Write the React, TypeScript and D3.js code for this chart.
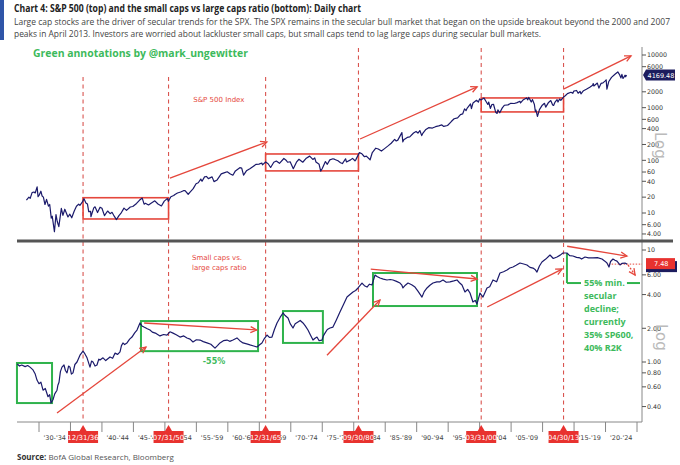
import React from "react";
import * as d3 from "d3";

// ---------- DATA ----------
// S&P 500 index (year, level)
const spxYears: number[] = [
  1928.0, 1928.4, 1928.6, 1928.9, 1929.2, 1929.4, 1929.7, 1929.85, 1930.0, 1930.3, 1930.5, 1930.7, 1930.95,
  1931.2, 1931.5, 1931.7, 1931.95, 1932.1, 1932.45, 1932.7, 1932.9, 1933.15, 1933.55, 1933.8, 1934.1, 1934.6,
  1934.9, 1935.2, 1935.6, 1935.95, 1936.3, 1936.5, 1936.9, 1937.15, 1937.45, 1937.7, 1937.9, 1938.2, 1938.25,
  1938.7, 1938.9, 1939.3, 1939.7, 1940.0, 1940.4, 1940.9, 1941.3, 1941.6, 1941.95, 1942.3, 1942.7, 1943.0,
  1943.5, 1943.9, 1944.5, 1944.9, 1945.5, 1945.95, 1946.4, 1946.7, 1946.9, 1947.4, 1947.8, 1948.4, 1948.9,
  1949.45, 1949.9, 1950.4, 1950.55, 1950.95, 1951.4, 1951.6, 1952.0, 1952.5, 1952.95, 1953.2, 1953.7, 1954.0,
  1954.5, 1954.95, 1955.3, 1955.7, 1955.9, 1956.3, 1956.6, 1956.9, 1957.5, 1957.8, 1958.3, 1958.95, 1959.5,
  1959.9, 1960.4, 1960.8, 1961.2, 1961.9, 1962.2, 1962.5, 1962.95, 1963.5, 1963.9, 1964.5, 1964.95, 1965.4,
  1965.5, 1966.0, 1966.4, 1966.8, 1967.3, 1967.7, 1968.2, 1968.9, 1969.3, 1969.5, 1969.9, 1970.4, 1970.9,
  1971.3, 1971.9, 1972.4, 1973.0, 1973.5, 1973.8, 1974.0, 1974.5, 1974.75, 1975.0, 1975.5, 1975.8, 1976.2,
  1976.7, 1977.0, 1977.5, 1977.9, 1978.2, 1978.7, 1978.85, 1979.5, 1979.8, 1980.2, 1980.3, 1980.9, 1981.3,
  1981.7, 1982.0, 1982.6, 1982.95, 1983.5, 1983.9, 1984.4, 1984.9, 1985.5, 1985.95, 1986.5, 1986.75, 1987.0,
  1987.65, 1987.8, 1987.95, 1988.5, 1988.9, 1989.5, 1989.9, 1990.2, 1990.5, 1990.8, 1991.0, 1991.4, 1991.9,
  1992.5, 1993.0, 1993.5, 1994.0, 1994.3, 1994.9, 1995.5, 1995.95, 1996.5, 1996.95, 1997.3, 1997.6, 1997.85,
  1998.0, 1998.55, 1998.7, 1998.95, 1999.5, 1999.8, 2000.0, 2000.2, 2000.7, 2001.0, 2001.3, 2001.45, 2001.7,
  2001.95, 2002.2, 2002.55, 2002.78, 2002.9, 2003.2, 2003.6, 2003.95, 2004.5, 2004.95, 2005.5, 2005.95, 2006.4,
  2006.5, 2006.95, 2007.45, 2007.65, 2007.8, 2008.0, 2008.2, 2008.4, 2008.7, 2008.85, 2008.95, 2009.18, 2009.5,
  2009.95, 2010.3, 2010.5, 2010.95, 2011.3, 2011.6, 2011.75, 2011.95, 2012.3, 2012.45, 2012.7, 2012.9, 2013.0,
  2013.33, 2013.6, 2013.95, 2014.5, 2014.8, 2014.95, 2015.4, 2015.65, 2015.95, 2016.1, 2016.5, 2016.95, 2017.5,
  2017.95, 2018.05, 2018.15, 2018.7, 2018.95, 2019.3, 2019.6, 2019.95, 2020.1, 2020.22, 2020.5, 2020.95, 2021.5,
  2021.95, 2022.2, 2022.45, 2022.6, 2022.78, 2022.95, 2023.1, 2023.2, 2023.33,
];
const spxValues: number[] = [
  17.6, 20.0, 19.0, 24.4, 25.0, 24.0, 31.3, 20.4, 21.5, 25.9, 21.0, 20.0, 14.5,
  18.1, 13.5, 14.5, 8.0, 8.7, 4.4, 9.3, 6.9, 5.5, 12.2, 9.0, 11.8, 8.4,
  9.5, 8.1, 10.9, 13.4, 14.7, 14.0, 16.2, 18.7, 15.5, 14.8, 10.6, 10.7, 8.5,
  12.5, 13.1, 10.2, 12.9, 12.3, 8.9, 10.9, 9.7, 10.3, 8.7, 7.5, 8.9, 9.8,
  12.4, 11.2, 13.0, 13.3, 15.2, 17.4, 19.2, 14.7, 15.3, 14.2, 15.3, 17.0, 14.8,
  13.6, 16.8, 18.8, 16.7, 20.4, 21.5, 22.5, 24.0, 25.0, 26.5, 26.6, 22.7, 25.0,
  29.0, 35.9, 37.5, 44.0, 40.0, 48.5, 49.4, 45.0, 48.5, 39.4, 42.5, 55.2, 58.5,
  60.7, 55.0, 52.2, 63.0, 72.6, 71.0, 52.3, 63.1, 69.5, 75.0, 84.0, 84.8, 89.0,
  82.0, 93.0, 86.0, 73.2, 92.0, 97.0, 87.7, 108.4, 99.0, 92.0, 94.0, 69.3, 92.2,
  104.8, 92.0, 108.0, 120.2, 104.0, 111.0, 93.0, 84.0, 62.3, 70.0, 95.0, 84.0, 102.0,
  107.0, 104.0, 98.0, 90.0, 86.9, 107.0, 93.0, 102.0, 109.0, 98.0, 101.0, 140.0, 133.0,
  117.0, 120.0, 102.4, 140.6, 170.0, 164.0, 150.0, 167.0, 190.0, 211.0, 250.0, 233.0, 242.0,
  336.0, 224.0, 247.0, 272.0, 278.0, 330.0, 353.0, 330.0, 368.0, 295.0, 330.0, 380.0, 417.0,
  410.0, 435.0, 450.0, 470.0, 440.0, 459.0, 545.0, 615.0, 640.0, 740.0, 760.0, 950.0, 880.0,
  970.0, 1180.0, 960.0, 1229.0, 1380.0, 1280.0, 1469.0, 1400.0, 1520.0, 1320.0, 1150.0, 1280.0, 965.0,
  1148.0, 1160.0, 820.0, 777.0, 910.0, 800.0, 990.0, 1112.0, 1130.0, 1212.0, 1200.0, 1248.0, 1320.0,
  1230.0, 1418.0, 1530.0, 1410.0, 1565.0, 1420.0, 1280.0, 1420.0, 1150.0, 850.0, 900.0, 680.0, 920.0,
  1115.0, 1210.0, 1022.0, 1258.0, 1363.0, 1120.0, 1100.0, 1258.0, 1420.0, 1280.0, 1460.0, 1380.0, 1426.0,
  1590.0, 1680.0, 1848.0, 1960.0, 1870.0, 2059.0, 2120.0, 1880.0, 2044.0, 1830.0, 2100.0, 2239.0, 2440.0,
  2674.0, 2870.0, 2580.0, 2930.0, 2350.0, 2900.0, 2950.0, 3230.0, 3380.0, 2240.0, 3100.0, 3756.0, 4300.0,
  4766.0, 4300.0, 3670.0, 4280.0, 3580.0, 3840.0, 4130.0, 3860.0, 4169.48,
];

// Small caps vs large caps ratio (year, ratio)
const ratioYears: number[] = [
  1926.55, 1926.9, 1927.25, 1927.8, 1928.2, 1928.57, 1929.05, 1929.4, 1929.68, 1930.0, 1930.3, 1930.64, 1931.0,
  1931.43, 1931.7, 1931.91, 1932.22, 1932.5, 1932.86, 1933.0, 1933.18, 1933.4, 1933.65, 1933.97, 1934.2, 1934.45,
  1934.7, 1934.92, 1935.15, 1935.4, 1935.7, 1936.04, 1936.51, 1936.99, 1937.3, 1937.63, 1938.1, 1938.35, 1938.58,
  1938.9, 1939.21, 1939.5, 1939.69, 1940.17, 1940.6, 1941.28, 1941.7, 1942.07, 1942.5, 1942.87, 1943.1, 1943.34,
  1943.6, 1943.98, 1944.4, 1944.77, 1945.2, 1945.57, 1946.04, 1946.35, 1946.68, 1947.2, 1947.63, 1948.0, 1948.6,
  1949.22, 1949.8, 1950.33, 1950.8, 1951.29, 1951.8, 1952.4, 1953.0, 1953.51, 1954.0, 1954.46, 1955.0, 1955.58,
  1956.1, 1956.69, 1957.3, 1957.96, 1958.35, 1958.75, 1959.3, 1959.87, 1960.3, 1960.82, 1961.45, 1961.9, 1962.41,
  1963.0, 1963.52, 1964.1, 1964.63, 1965.0, 1965.42, 1965.8, 1966.22, 1966.6, 1967.01, 1967.4, 1967.81, 1968.3,
  1968.76, 1969.1, 1969.56, 1969.9, 1970.35, 1970.7, 1971.14, 1971.5, 1971.94, 1972.3, 1972.73, 1973.1, 1973.53,
  1973.8, 1974.16, 1974.5, 1974.96, 1975.2, 1975.43, 1975.8, 1976.23, 1976.7, 1977.2, 1977.81, 1978.3, 1978.93,
  1979.4, 1979.88, 1980.3, 1980.68, 1981.31, 1981.7, 1982.11, 1982.5, 1982.9, 1983.38, 1983.7, 1984.17, 1984.7,
  1985.28, 1985.8, 1986.24, 1986.8, 1987.35, 1987.65, 1987.82, 1988.2, 1988.62, 1989.2, 1989.73, 1990.2, 1990.84,
  1991.2, 1991.64, 1992.1, 1992.59, 1993.2, 1993.7, 1994.18, 1994.7, 1995.29, 1995.9, 1996.4, 1996.8, 1997.2,
  1997.67, 1998.1, 1998.47, 1998.94, 1999.3, 1999.58, 2000.06, 2000.3, 2000.53, 2001.17, 2001.6, 2002.12, 2002.7,
  2003.23, 2003.8, 2004.35, 2004.8, 2005.3, 2005.8, 2006.41, 2007.0, 2007.52, 2008.0, 2008.48, 2008.8, 2009.11,
  2009.5, 2009.9, 2010.5, 2011.18, 2011.7, 2012.29, 2012.8, 2013.24, 2013.87, 2014.3, 2014.83, 2015.4, 2015.94,
  2016.2, 2016.74, 2017.3, 2018.01, 2018.7, 2019.44, 2019.9, 2020.23, 2020.55, 2020.8, 2021.18, 2021.5, 2021.82,
  2022.3, 2022.6, 2023.09, 2023.41,
];
const ratioValues: number[] = [
  0.96, 0.92, 0.94, 0.91, 0.93, 0.9, 0.85, 0.78, 0.69, 0.64, 0.66, 0.56, 0.58,
  0.49, 0.51, 0.43, 0.46, 0.52, 0.56, 0.62, 0.66, 0.82, 0.9, 0.94, 0.84, 0.8,
  0.92, 0.9, 0.78, 0.8, 0.95, 1.0, 1.15, 1.25, 1.18, 1.09, 0.9, 1.02, 1.0,
  0.92, 0.94, 1.06, 1.04, 1.09, 1.03, 1.11, 1.08, 1.2, 1.17, 1.23, 1.4, 1.48,
  1.43, 1.48, 1.6, 1.67, 1.82, 1.93, 2.23, 2.1, 2.05, 1.98, 1.93, 1.85, 1.8,
  1.71, 1.76, 1.74, 1.86, 1.81, 1.75, 1.67, 1.71, 1.64, 1.6, 1.51, 1.58, 1.57,
  1.52, 1.48, 1.44, 1.33, 1.4, 1.48, 1.55, 1.57, 1.53, 1.57, 1.64, 1.55, 1.48,
  1.45, 1.42, 1.39, 1.36, 1.42, 1.48, 1.62, 1.74, 1.66, 1.67, 1.95, 2.23, 2.5,
  2.74, 2.6, 2.47, 2.2, 2.01, 2.2, 2.28, 2.35, 2.23, 2.1, 1.93, 1.75, 1.57,
  1.62, 1.67, 1.55, 1.57, 1.72, 1.81, 1.95, 2.01, 2.05, 2.35, 2.79, 3.2, 3.8,
  4.0, 4.22, 4.35, 4.58, 5.07, 4.8, 4.67, 4.95, 4.87, 5.98, 5.8, 5.62, 5.5,
  5.4, 5.45, 5.4, 5.25, 5.07, 4.85, 4.58, 4.85, 5.07, 4.9, 4.67, 4.3, 3.8,
  4.25, 4.58, 4.85, 5.07, 5.2, 5.2, 5.4, 5.15, 5.2, 5.3, 5.4, 5.1, 4.87,
  4.22, 4.45, 4.13, 3.43, 3.55, 3.3, 4.13, 3.95, 3.8, 4.58, 4.7, 5.4, 5.2,
  6.23, 6.4, 6.63, 6.9, 7.05, 7.3, 7.65, 7.5, 7.35, 7.0, 6.9, 6.7, 6.36,
  7.2, 7.81, 8.3, 9.02, 8.4, 8.66, 9.0, 9.4, 9.4, 8.9, 8.84, 8.6, 8.49,
  8.3, 8.66, 8.5, 8.49, 8.55, 8.31, 7.95, 7.65, 7.05, 7.9, 8.31, 8.1, 7.95,
  7.35, 7.6, 7.65, 7.48,
];

// Axis ticks
const spxTicks: number[] = [10000, 6000, 2000, 1000, 600, 400, 200, 100, 60, 40, 20, 10, 6, 4];
const spxTickLabels: string[] = ["10000", "6000", "2000", "1000", "600", "400", "200", "100", "60", "40", "20", "10", "6.00", "4.00"];
const ratioTicks: number[] = [10, 6, 4, 2, 1, 0.8, 0.6, 0.4];
const ratioTickLabels: string[] = ["10", "6.00", "4.00", "2.00", "1.00", "0.80", "0.60", "0.40"];
const periodStarts: number[] = [1930, 1935, 1940, 1945, 1950, 1955, 1960, 1965, 1970, 1975, 1980, 1985, 1990, 1995, 2000, 2005, 2010, 2015, 2020, 2025];
const periodLabels: string[] = ["'30-'34", "'35-'39", "'40-'44", "'45-'49", "'50-'54", "'55-'59", "'60-'64", "'65-'69", "'70-'74", "'75-'79", "'80-'84", "'85-'89", "'90-'94", "'95-'99", "'00-'04", "'05-'09", "'10-'14", "'15-'19", "'20-'24"];

// Key dates (vertical dashed lines)
const keyDates: number[] = [1937.0, 1950.58, 1966.0, 1980.75, 2000.25, 2013.33];
const keyDateLabels: string[] = ["12/31/36", "07/31/50", "12/31/65", "09/30/80", "03/31/00", "04/30/13"];

// Annotations (data coordinates)
const spxBoxes: number[][] = [[1937.0, 1950.58, 7.7, 19.5], [1966.0, 1980.75, 63, 132], [2000.25, 2013.33, 830, 1530]];
const spxArrows: number[][] = [[1950.8, 46, 1966.2, 223], [1981.0, 254, 1999.6, 2476], [2013.4, 2269, 2024.05, 9630]];
const ratioBoxes: number[][] = [[1926.5, 1932.07, 0.43, 0.98], [1946.2, 1964.8, 1.25, 2.32], [1968.76, 1975.1, 1.48, 2.85], [1983.06, 1999.58, 3.16, 6.23]];
const ratioArrows: number[][] = [[1932.86, 0.35, 1947.0, 1.36], [1946.7, 2.23, 1964.6, 1.93], [1975.75, 1.15, 1984.17, 3.58], [1982.7, 6.76, 1999.6, 5.51], [2001.2, 3.1, 2013.1, 6.76], [2013.9, 10.8, 2023.4, 8.83]];
const greenNote: string[] = ["55% min.", "secular", "decline;", "currently", "35% SP600,", "40% R2K"];

const RED = "#e5473c";
const GREEN = "#2fb34c";
const NAVY = "#1b1a6b";

export default function App() {
  const x = d3.scaleLinear().domain([1930, 2025]).range([39, 637]);
  const yT = d3.scaleLog().domain([10, 10000]).range([213, 55]);
  const yB = d3.scaleLog().domain([1, 10]).range([362, 250]);

  const spxData = spxYears.map((t, i) => [t, spxValues[i]] as [number, number]);
  const ratioData = ratioYears.map((t, i) => [t, ratioValues[i]] as [number, number]);
  const lineT = d3.line<[number, number]>().x((d) => x(d[0])).y((d) => yT(d[1]));
  const lineB = d3.line<[number, number]>().x((d) => x(d[0])).y((d) => yB(d[1]));

  const axisX = 642;
  const tickFont = "'DejaVu Sans', Verdana, sans-serif";
  const titleFont = "'Liberation Sans Narrow', 'Open Sans', 'Liberation Sans', sans-serif";

  // period labels completely covered by a key-date marker are not visible in the reference
  const visibleLabels = periodLabels
    .map((l, i) => ({ l, c: x(periodStarts[i] + 2.5) }))
    .filter((o) => keyDates.every((d) => Math.abs(x(d) - o.c) >= 8));

  const arrow = (k: string, x1: number, y1: number, x2: number, y2: number, color: string, dash?: string) => {
    const ang = Math.atan2(y2 - y1, x2 - x1);
    const L = 7, a = 0.45;
    const p1 = [x2 - L * Math.cos(ang - a), y2 - L * Math.sin(ang - a)];
    const p2 = [x2 - L * Math.cos(ang + a), y2 - L * Math.sin(ang + a)];
    return (
      <g key={k}>
        <line x1={x1} y1={y1} x2={x2} y2={y2} stroke={color} strokeWidth={1.3} strokeDasharray={dash} />
        <path d={`M${p1[0]},${p1[1]} L${x2},${y2} L${p2[0]},${p2[1]}`} fill="none" stroke={color} strokeWidth={1.3} />
      </g>
    );
  };

  return (
    <svg width={680} height={465} style={{ position: "absolute", left: 0, top: 0, background: "#fff" }}>
      <rect x={0} y={0} width={680} height={465} fill="#fff" />
      {/* header */}
      <rect x={0} y={0} width={4} height={40} fill="#2f55a8" />
      <text x={14} y={12} fontFamily={titleFont} fontWeight="bold" fontSize={10} fill="#222" textLength={347} lengthAdjust="spacingAndGlyphs">
        Chart 4: S&amp;P 500 (top) and the small caps vs large caps ratio (bottom): Daily chart
      </text>
      <text x={14} y={24.5} fontFamily={titleFont} fontSize={8.2} fill="#444" textLength={656} lengthAdjust="spacingAndGlyphs">
        Large cap stocks are the driver of secular trends for the SPX. The SPX remains in the secular bull market that began on the upside breakout beyond the 2000 and 2007
      </text>
      <text x={14} y={36.5} fontFamily={titleFont} fontSize={8.2} fill="#444" textLength={527} lengthAdjust="spacingAndGlyphs">
        peaks in April 2013. Investors are worried about lackluster small caps, but small caps tend to lag large caps during secular bull markets.
      </text>
      <text x={33} y={57} fontFamily="'Open Sans', sans-serif" fontWeight="bold" fontSize={11} fill="#3dba5c" textLength={215} lengthAdjust="spacingAndGlyphs">
        Green annotations by @mark_ungewitter
      </text>

      {/* vertical dashed key-date lines */}
      {keyDates.map((d, i) => (
        <line key={"v" + i} x1={x(d)} x2={x(d)} y1={i < 3 ? 77 : 48} y2={422} stroke="#d95550" strokeWidth={1.1} strokeDasharray="4,3.5" />
      ))}

      {/* right axis */}
      <line x1={axisX} x2={axisX} y1={47} y2={422} stroke="#888" strokeWidth={1} />
      {spxTicks.map((t, i) => (
        <g key={"tt" + i}>
          <line x1={axisX} x2={axisX + 4} y1={yT(t)} y2={yT(t)} stroke="#555" />
          <text x={axisX + 5} y={yT(t) + 2.3} fontFamily={tickFont} fontSize={6.3} fill="#333">{spxTickLabels[i]}</text>
        </g>
      ))}
      {ratioTicks.map((t, i) => (
        <g key={"bt" + i}>
          <line x1={axisX} x2={axisX + 4} y1={yB(t)} y2={yB(t)} stroke="#555" />
          <text x={axisX + 5} y={yB(t) + 2.3} fontFamily={tickFont} fontSize={6.3} fill="#333">{ratioTickLabels[i]}</text>
        </g>
      ))}
      <text transform="translate(655,132) rotate(90)" fontFamily="'DejaVu Sans', sans-serif" fontSize={15} fill="#bbb">Log</text>
      <text transform="translate(656,324) rotate(90)" fontFamily="'DejaVu Sans', sans-serif" fontSize={15} fill="#bbb">Log</text>

      {/* separator */}
      <line x1={17} x2={673} y1={241} y2={241} stroke="#555" strokeWidth={3} />

      {/* x axis */}
      <line x1={17} x2={axisX} y1={422} y2={422} stroke="#888" strokeWidth={1} />
      {periodStarts.map((p, i) => (
        <line key={"xt" + i} x1={x(p)} x2={x(p)} y1={422} y2={432} stroke="#888" />
      ))}
      {visibleLabels.map((o, i) => (
        <text key={"xl" + i} x={o.c} y={439.5} textAnchor="middle" fontFamily={tickFont} fontSize={6.5} fill="#444">{o.l}</text>
      ))}
      {keyDates.map((d, i) => (
        <g key={"kd" + i}>
          <path d={`M${x(d) - 3.5},431 L${x(d)},425 L${x(d) + 3.5},431 Z`} fill="#e8322f" />
          <rect x={x(d) - 15} y={431} width={30} height={12} fill="#e8322f" />
          <text x={x(d)} y={440} textAnchor="middle" fontFamily={tickFont} fontSize={7} fill="#fff">{keyDateLabels[i]}</text>
        </g>
      ))}

      {/* top panel annotations */}
      {spxBoxes.map((b, i) => (
        <rect key={"sb" + i} x={x(b[0])} y={yT(b[3])} width={x(b[1]) - x(b[0])} height={yT(b[2]) - yT(b[3])} fill="none" stroke={RED} strokeWidth={1.6} />
      ))}
      {spxArrows.map((a, i) => arrow("sa" + i, x(a[0]), yT(a[1]), x(a[2]), yT(a[3]), RED))}
      <text x={x(1954.5)} y={102} fontFamily={tickFont} fontSize={7} fill={RED}>S&amp;P 500 Index</text>

      {/* S&P line */}
      <path d={lineT(spxData) || ""} fill="none" stroke={NAVY} strokeWidth={1.2} strokeLinejoin="round" />

      {/* bottom annotations */}
      {ratioBoxes.map((b, i) => (
        <rect key={"rb" + i} x={x(b[0])} y={yB(b[3])} width={x(b[1]) - x(b[0])} height={yB(b[2]) - yB(b[3])} fill="none" stroke={GREEN} strokeWidth={2} />
      ))}
      {ratioArrows.map((a, i) => arrow("ra" + i, x(a[0]), yB(a[1]), x(a[2]), yB(a[3]), RED))}
      <line x1={x(2020.5)} x2={axisX} y1={yB(7.48)} y2={yB(7.48)} stroke={RED} strokeWidth={1} strokeDasharray="1.5,1.5" />
      {arrow("rdash", x(2023.57), yB(7.35), x(2024.7), yB(5.98), RED, "2,1.5")}
      <text x={x(1954.3)} y={260} fontFamily={tickFont} fontSize={7} fill={RED}>Small caps vs.</text>
      <text x={x(1954.3)} y={270} fontFamily={tickFont} fontSize={7} fill={RED}>large caps ratio</text>
      <text x={x(1957.8)} y={364} textAnchor="middle" fontFamily={tickFont} fontWeight="bold" fontSize={8} fill="#3dba5c">-55%</text>

      {/* green bracket */}
      <line x1={x(2013.87)} x2={x(2013.87)} y1={yB(9.4)} y2={yB(5.07)} stroke={GREEN} strokeWidth={2} />
      <line x1={x(2013.87)} x2={x(2016.1)} y1={yB(5.07)} y2={yB(5.07)} stroke={GREEN} strokeWidth={2} />
      <line x1={x(2023.4)} x2={axisX - 2} y1={yB(5.07)} y2={yB(5.07)} stroke={GREEN} strokeWidth={2} />
      {greenNote.map((t, i) => (
        <text key={"gn" + i} x={584} y={286 + i * 13} fontFamily="'Open Sans', sans-serif" fontWeight="bold" fontSize={9} fill="#3dba5c">{t}</text>
      ))}

      {/* ratio line */}
      <path d={lineB(ratioData) || ""} fill="none" stroke={NAVY} strokeWidth={1.2} strokeLinejoin="round" />

      {/* last value labels */}
      <g>
        <path d={`M${axisX + 1},${yT(4169.48)} L${axisX + 4},${yT(4169.48) - 5.5} L${axisX + 4},${yT(4169.48) + 5.5} Z`} fill="#1c1c5e" />
        <rect x={axisX + 4} y={yT(4169.48) - 5.5} width={29} height={11} fill="#1c1c5e" />
        <text x={axisX + 5.5} y={yT(4169.48) + 2.5} fontFamily={tickFont} fontSize={6.5} fill="#fff">4169.48</text>
      </g>
      <g>
        <rect x={axisX + 4} y={yB(7.48) - 3} width={31} height={11} fill="#1c1c5e" />
        <rect x={axisX + 4} y={yB(7.48) - 6} width={29} height={11} fill="#e8322f" />
        <text x={axisX + 12} y={yB(7.48) + 2} fontFamily={tickFont} fontSize={6.5} fill="#fff">7.48</text>
      </g>

      {/* source */}
      <text x={17} y={460} fontFamily={titleFont} fontSize={8} fill="#555">
        <tspan fontWeight="bold" fill="#333">Source:</tspan> BofA Global Research, Bloomberg
      </text>
    </svg>
  );
}
